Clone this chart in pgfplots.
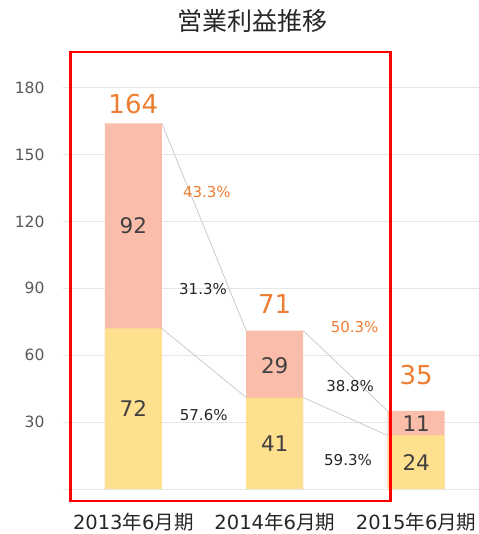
\documentclass[border=0pt]{standalone}
\usepackage{pgfplots}
\pgfplotsset{compat=1.18}
\usepackage{fontspec}
\setmainfont{DejaVu Sans}
\newfontfamily\jp{Noto Sans CJK JP}
\definecolor{pinkbar}{HTML}{FABDAA}
\definecolor{yellowbar}{HTML}{FFE08F}
\definecolor{orangetxt}{HTML}{ED7D31}
\definecolor{darktxt}{HTML}{404040}
\definecolor{blacktxt}{HTML}{262626}
\definecolor{ticktxt}{HTML}{595959}
\definecolor{gridc}{HTML}{E6E6E6}
\definecolor{linec}{HTML}{C8C8C8}
\begin{document}
\begin{tikzpicture}
\begin{axis}[
  scale only axis, width=416.4bp, height=423.7bp,
  xmin=-0.5, xmax=2.444, ymin=0, ymax=190,
  clip=false,
  axis line style={draw=none},
  tick style={draw=none},
  ymajorgrids, grid style={gridc, line width=0.8bp},
  ytick={0,30,60,90,120,150,180},
  yticklabels={,30,60,90,120,150,180},
  xtick={0,1,2},
  xticklabels={2013{\jp 年}6{\jp 月期},2014{\jp 年}6{\jp 月期},2015{\jp 年}6{\jp 月期}},
  yticklabel style={font=\fontsize{15.5bp}{18bp}\selectfont, text=ticktxt, anchor=east, inner sep=0pt, xshift=-18bp},
  xticklabel style={font=\fontsize{19.5bp}{23bp}\selectfont, text=blacktxt, anchor=base, inner sep=0pt, yshift=-41bp},
]
% totals (pink, drawn full height)
\addplot[ybar, bar width=0.403, bar shift=0pt, fill=pinkbar, draw=none]
  coordinates {(0,164) (1,71) (2,35)};
% lower segment (yellow)
\addplot[ybar, bar width=0.403, bar shift=0pt, fill=yellowbar, draw=none]
  coordinates {(0,72) (1,41) (2,24)};
% connectors
\addplot[linec, line width=0.75bp, no marks] coordinates {(0.2015,164) (0.7985,71)};
\addplot[linec, line width=0.75bp, no marks] coordinates {(0.2015,72) (0.7985,41)};
\addplot[linec, line width=0.75bp, no marks] coordinates {(1.2015,71) (1.7985,35)};
\addplot[linec, line width=0.75bp, no marks] coordinates {(1.2015,41) (1.7985,24)};
% totals labels
\node[text=orangetxt, font=\fontsize{26bp}{30bp}\selectfont] at (axis cs:0,172.5) {164};
\node[text=orangetxt, font=\fontsize{26bp}{30bp}\selectfont] at (axis cs:1,83.0) {71};
\node[text=orangetxt, font=\fontsize{26bp}{30bp}\selectfont] at (axis cs:2,51.1) {35};
% segment labels
\node[text=darktxt, font=\fontsize{21.5bp}{25bp}\selectfont] at (axis cs:0,118) {92};
\node[text=darktxt, font=\fontsize{21.5bp}{25bp}\selectfont] at (axis cs:0,36) {72};
\node[text=darktxt, font=\fontsize{21.5bp}{25bp}\selectfont] at (axis cs:1,55.5) {29};
\node[text=darktxt, font=\fontsize{21.5bp}{25bp}\selectfont] at (axis cs:1,20.5) {41};
\node[text=darktxt, font=\fontsize{21.5bp}{25bp}\selectfont] at (axis cs:2,29.5) {11};
\node[text=darktxt, font=\fontsize{21.5bp}{25bp}\selectfont] at (axis cs:2,12) {24};
% percentages
\node[text=orangetxt, font=\fontsize{15bp}{18bp}\selectfont] at (axis cs:0.520,133.3) {43.3\%};
\node[text=blacktxt, font=\fontsize{15bp}{18bp}\selectfont] at (axis cs:0.493,89.6) {31.3\%};
\node[text=blacktxt, font=\fontsize{15bp}{18bp}\selectfont] at (axis cs:0.498,33.2) {57.6\%};
\node[text=orangetxt, font=\fontsize{15bp}{18bp}\selectfont] at (axis cs:1.565,72.8) {50.3\%};
\node[text=blacktxt, font=\fontsize{15bp}{18bp}\selectfont] at (axis cs:1.533,46.3) {38.8\%};
\node[text=blacktxt, font=\fontsize{15bp}{18bp}\selectfont] at (axis cs:1.518,13.0) {59.3\%};
% title
\node[text=blacktxt, font=\jp\fontsize{25bp}{30bp}\selectfont] at (axis cs:0.843,209.9) {営業利益推移};
% red frame
\draw[red, line width=2.4bp] (axis cs:-0.4437,195.9) rectangle (axis cs:1.818,-5.25);
% bounding box corners
\coordinate (bbl) at (axis cs:-0.9424,-20.18);
\coordinate (btr) at (axis cs:2.444,219.28);
\end{axis}
\pgfresetboundingbox
\path[use as bounding box] (bbl) rectangle (btr);
\end{tikzpicture}
\end{document}
